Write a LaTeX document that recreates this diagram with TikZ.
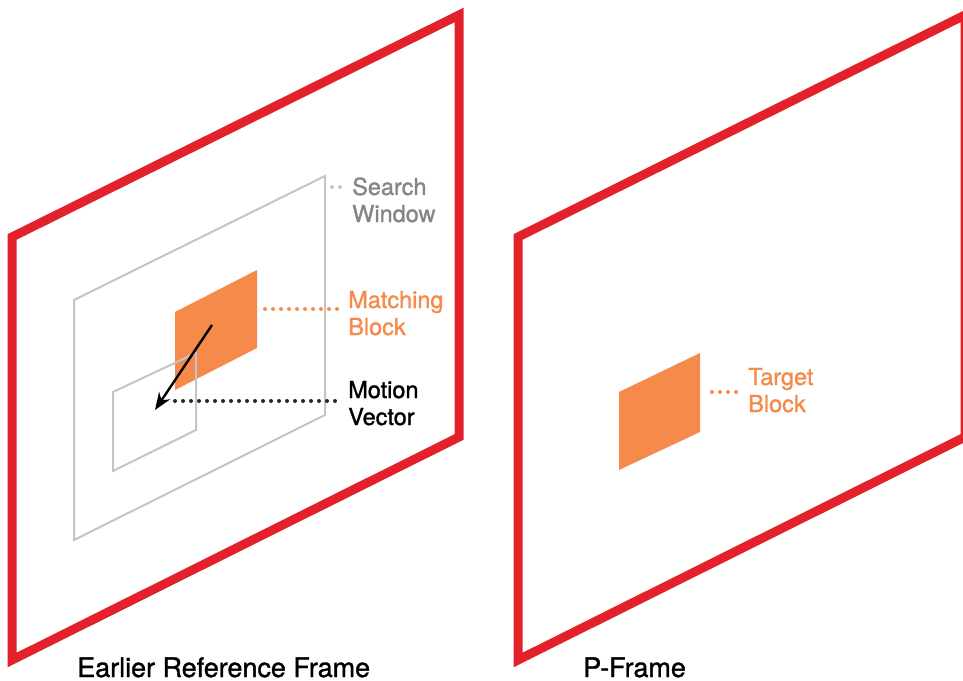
\documentclass[tikz,border=0pt]{standalone}
\usepackage{fontspec}
\setmainfont{TeX Gyre Heros}[FakeBold=1.2]
\usetikzlibrary{arrows.meta}
\definecolor{framered}{HTML}{E3212A}
\definecolor{blockorange}{HTML}{F58A4B}
\definecolor{wingray}{HTML}{C4C4C4}
\definecolor{textgray}{HTML}{858585}
\begin{document}
\begin{tikzpicture}[x=0.75pt,y=-0.75pt,
  frame/.style={draw=framered,line width=6.75pt,line join=miter},
  win/.style={draw=wingray,line width=1.5pt,line join=miter},
  blk/.style={fill=blockorange},
  dots/.style={line width=3pt,line cap=round,dash pattern=on 0pt off 6pt},
  lbl/.style={anchor=base west,inner sep=0pt,font=\fontsize{17.6}{21}\selectfont},
  capt/.style={anchor=base west,inner sep=0pt,font=\fontsize{20.2}{24}\selectfont}]
\useasboundingbox (0,0) rectangle (963,681);
\clip (0,0) rectangle (963,681);
% frames
\draw[frame] (12,237) -- (459,15) -- (459,437) -- (12,660) -- cycle;
\draw[frame] (518,237) -- (965,15) -- (965,437) -- (518,660) -- cycle;
% search window
\draw[win] (74,300) -- (325,176) -- (325,415) -- (74,540) -- cycle;
% matching block
\fill[blk] (175,312) -- (257,270) -- (257,348) -- (175,390) -- cycle;
% current block position
\draw[win] (113,392) -- (196,353) -- (196,430) -- (113,471) -- cycle;
% motion vector
\coordinate (mvs) at (212,325);
\coordinate (mve) at (155,410);
\draw[line width=1.8pt,-{Stealth[length=13pt,width=10pt]}] (mvs) -- (mve);
% target block
\fill[blk] (619,392) -- (700,353) -- (700,432) -- (619,470) -- cycle;
% labels
\node[lbl,text=textgray] (search) at (352,195) {Search};
\node[lbl,text=textgray] (window) at (352,222) {Window};
\node[lbl,text=blockorange] (matching) at (348,308) {Matching};
\node[lbl,text=blockorange] (mblock) at (348,335) {Block};
\node[lbl] (motion) at (348,398) {Motion};
\node[lbl] (vector) at (348,425) {Vector};
\node[lbl,text=blockorange] (target) at (748,385) {Target};
\node[lbl,text=blockorange] (tblock) at (748,412) {Block};
\node[capt] (cap1) at (77,677) {Earlier Reference Frame};
\node[capt] (cap2) at (583,677) {P-Frame};
% leader dots
\coordinate (sd1) at (332,187); \coordinate (sd2) at (341,187);
\draw[dots,draw=wingray] (sd1) -- (sd2);
\coordinate (md1) at (265,309); \coordinate (md2) at (342,309);
\draw[dots,draw=blockorange] (md1) -- (md2);
\coordinate (vd1) at (175,401); \coordinate (vd2) at (341,401);
\draw[dots,draw=black!85] (vd1) -- (vd2);
\coordinate (td1) at (712,392); \coordinate (td2) at (737,392);
\draw[dots,draw=blockorange] (td1) -- (td2);
\end{tikzpicture}
\end{document}
